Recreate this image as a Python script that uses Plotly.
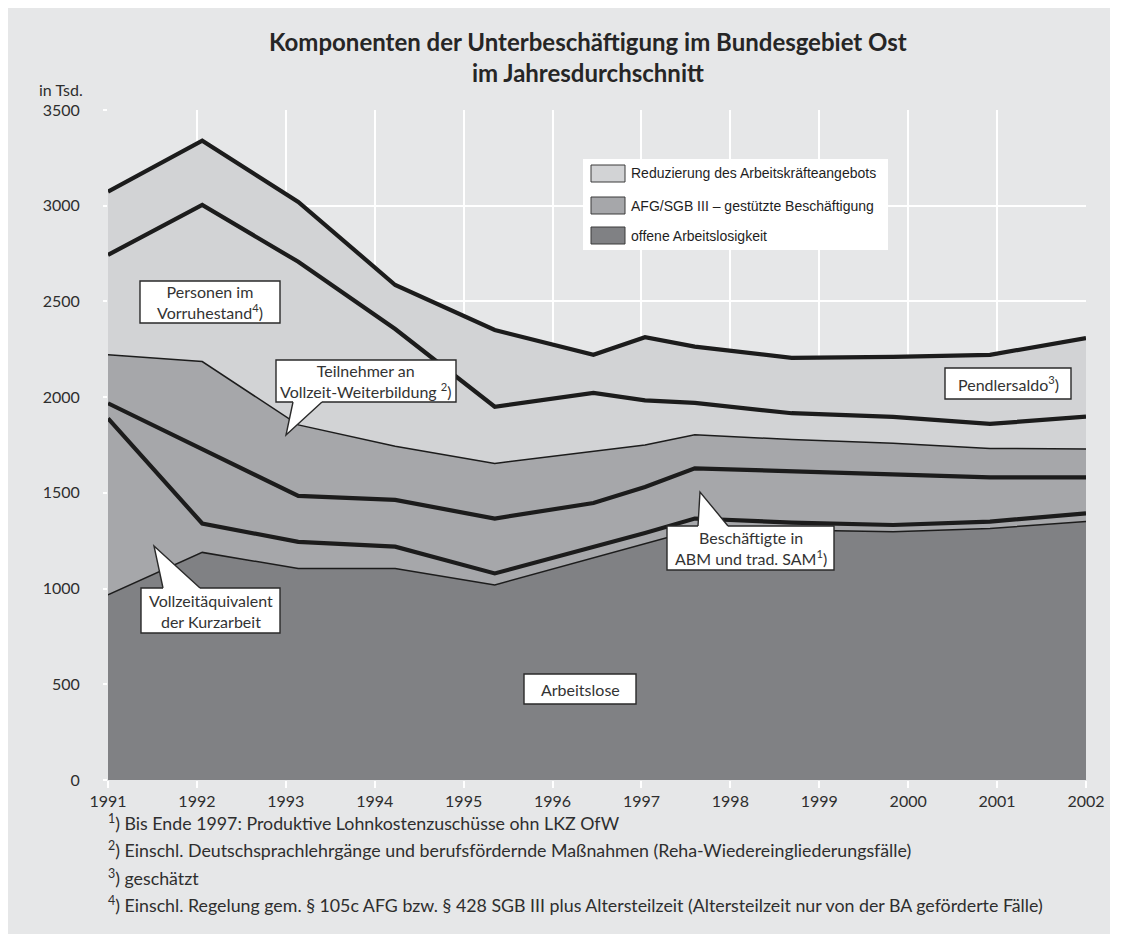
import plotly.graph_objects as go

# ---------------- data (thousands of persons) ----------------
years = [1991.0, 1992.06, 1993.14, 1994.23, 1995.35, 1996.46, 1997.04,
         1997.6, 1998.69, 1999.83, 2000.92, 2002.0]
arbeitslose = [967, 1189, 1105, 1105, 1019, 1160, 1233, 1306, 1306, 1297, 1314, 1350]
kurzarbeit = [922, 151, 139, 114, 60, 55, 57, 60, 39, 35, 36, 43]
abm_sam = [79, 390, 240, 244, 287, 232, 241, 262, 269, 267, 231, 188]
weiterbildung = [253, 456, 371, 281, 288, 268, 219, 175, 165, 160, 151, 148]
vorruhestand = [522, 818, 852, 612, 296, 307, 233, 167, 137, 138, 128, 169]
pendlersaldo = [331, 336, 313, 230, 401, 199, 330, 294, 289, 313, 361, 410]

x_ticks = list(range(1991, 2003))
x_ticktext = [str(y) for y in x_ticks]
y_ticks = [0, 500, 1000, 1500, 2000, 2500, 3000, 3500]
y_ticktext = [str(v) for v in y_ticks]

legend_labels = ["Reduzierung des Arbeitskräfteangebots",
                 "AFG/SGB III – gestützte Beschäftigung",
                 "offene Arbeitslosigkeit"]

footnotes = [
    "<sup>1</sup>) Bis Ende 1997: Produktive Lohnkostenzuschüsse ohn LKZ OfW",
    "<sup>2</sup>) Einschl. Deutschsprachlehrgänge und berufsfördernde Maßnahmen (Reha-Wiedereingliederungsfälle)",
    "<sup>3</sup>) geschätzt",
    "<sup>4</sup>) Einschl. Regelung gem. § 105c AFG bzw. § 428 SGB III plus Altersteilzeit (Altersteilzeit nur von der BA geförderte Fälle)",
]

# ---------------- style ----------------
DARK = "#808184"
MED = "#a6a7aa"
LIGHT = "#d2d3d5"
BG = "#e6e7e8"
LINE = "#1c1c1c"
TXT = "#2e2e2e"
FONT = "Lato, Noto Sans, sans-serif"

# the page body adds an 8 px offset; the figure covers the grey frame only
OFF = 8
W, H = 1102, 926
PLOT_L, PLOT_R, PLOT_T, PLOT_B = 108, 1086, 110, 780     # in reference pixels
L, R = PLOT_L - OFF, (OFF + W) - PLOT_R
T, B = PLOT_T - OFF, (OFF + H) - PLOT_B
PW, PH = PLOT_R - PLOT_L, PLOT_B - PLOT_T


def px(x):
    return (x - PLOT_L) / PW


def py(y):
    return (PLOT_B - y) / PH


fig = go.Figure()

series = [
    (arbeitslose, DARK, 1.5, "offene Arbeitslosigkeit"),
    (kurzarbeit, MED, 4.2, "Vollzeitäquivalent der Kurzarbeit"),
    (abm_sam, MED, 4.2, "Beschäftigte in ABM und trad. SAM"),
    (weiterbildung, MED, 1.5, "Teilnehmer an Vollzeit-Weiterbildung"),
    (vorruhestand, LIGHT, 4.2, "Personen im Vorruhestand"),
    (pendlersaldo, LIGHT, 4.2, "Pendlersaldo"),
]
for vals, col, lw, name in series:
    fig.add_trace(go.Scatter(
        x=years, y=vals, name=name, mode="lines", stackgroup="stack",
        line=dict(color=LINE, width=lw, shape="linear"),
        fillcolor=col, showlegend=False, hoverinfo="x+y+name",
    ))

shapes = []
annotations = []

# title
annotations.append(dict(xref="paper", yref="paper", x=px(588), y=py(57),
                        xanchor="center", yanchor="middle", showarrow=False,
                        text="Komponenten der Unterbeschäftigung im Bundesgebiet Ost<br>im Jahresdurchschnitt",
                        font=dict(family=FONT, size=24, color="#262626", weight="bold")))
annotations.append(dict(xref="paper", yref="paper", x=px(37), y=py(89),
                        xanchor="left", yanchor="middle", showarrow=False,
                        text="in Tsd.", font=dict(family=FONT, size=16, color=TXT)))

# legend (drawn manually)
shapes.append(dict(type="rect", xref="paper", yref="paper", layer="above",
                   x0=px(583), x1=px(888), y0=py(159), y1=py(250),
                   fillcolor="white", line=dict(width=0)))
for i, (lab, col) in enumerate(zip(legend_labels, [LIGHT, MED, DARK])):
    top = [165, 197, 227][i]
    shapes.append(dict(type="rect", xref="paper", yref="paper", layer="above",
                       x0=px(591), x1=px(625), y0=py(top), y1=py(top + 17),
                       fillcolor=col, line=dict(color="#3a3a3a", width=1)))
    annotations.append(dict(xref="paper", yref="paper", x=px(629), y=py(top + 8.5),
                            xanchor="left", yanchor="middle", showarrow=False, text=lab,
                            font=dict(family="Liberation Sans, Arial, sans-serif", size=14,
                                      color="#1e1e1e")))


# callout boxes
def callout(text, x0, x1, y0, y1, tail=None):
    shapes.append(dict(type="rect", xref="paper", yref="paper", layer="above",
                       x0=px(x0), x1=px(x1), y0=py(y0), y1=py(y1),
                       fillcolor="white", line=dict(color="#2a2a2a", width=1.4)))
    if tail is not None:
        bx0, bx1, by, tx, ty = tail
        inner = by - 3 if ty > by else by + 3
        fill_path = (f"M {px(bx0)} {py(inner)} L {px(bx0)} {py(by)} L {px(tx)} {py(ty)} "
                     f"L {px(bx1)} {py(by)} L {px(bx1)} {py(inner)} Z")
        shapes.append(dict(type="path", xref="paper", yref="paper", layer="above",
                           path=fill_path, fillcolor="white", line=dict(width=0)))
        stroke_path = f"M {px(bx0)} {py(by)} L {px(tx)} {py(ty)} L {px(bx1)} {py(by)}"
        shapes.append(dict(type="path", xref="paper", yref="paper", layer="above",
                           path=stroke_path, line=dict(color="#2a2a2a", width=1.4)))
    annotations.append(dict(xref="paper", yref="paper", x=px((x0 + x1) / 2), y=py((y0 + y1) / 2),
                            xanchor="center", yanchor="middle", showarrow=False, text=text,
                            font=dict(family=FONT, size=16, color="#333333")))


callout("Personen im<br>Vorruhestand<sup>4</sup>)", 140, 280, 281, 323)
callout("Teilnehmer an<br>Vollzeit-Weiterbildung <sup>2</sup>)", 276, 456, 360, 402,
        tail=(293, 322, 402, 286, 435))
callout("Vollzeitäquivalent<br>der Kurzarbeit", 141, 280, 588, 633,
        tail=(163, 200, 588, 154, 546))
callout("Arbeitslose", 524, 636, 674, 704)
callout("Beschäftigte in<br>ABM und trad. SAM<sup>1</sup>)", 667, 834, 526, 570,
        tail=(698, 728, 526, 700, 492))
callout("Pendlersaldo<sup>3</sup>)", 945, 1071, 368, 399)

# footnotes
for i, fn in enumerate(footnotes):
    annotations.append(dict(xref="paper", yref="paper", x=px(106), y=py(822 + i * 27.5),
                            xanchor="left", yanchor="middle", showarrow=False, text=fn,
                            font=dict(family=FONT, size=17.8, color=TXT)))

fig.update_layout(
    width=W, height=H,
    margin=dict(l=L, r=R, t=T, b=B, autoexpand=False),
    paper_bgcolor=BG, plot_bgcolor=BG,
    shapes=shapes, annotations=annotations,
    showlegend=False,
    xaxis=dict(range=[1991, 2002], tickvals=x_ticks, ticktext=x_ticktext,
               showgrid=True, gridcolor="white", gridwidth=1.5, zeroline=False,
               showline=False, ticks="outside", ticklen=7, tickcolor="white", tickwidth=1.5,
               tickfont=dict(family=FONT, size=16, color=TXT)),
    yaxis=dict(range=[0, 3500], tickvals=y_ticks, ticktext=y_ticktext,
               showgrid=True, gridcolor="white", gridwidth=1.5, zeroline=False,
               showline=False, ticks="outside", ticklen=4, tickcolor="white", tickwidth=1.5,
               ticklabelstandoff=20,
               tickfont=dict(family=FONT, size=16, color=TXT)),
)

fig.write_html("out.html")
